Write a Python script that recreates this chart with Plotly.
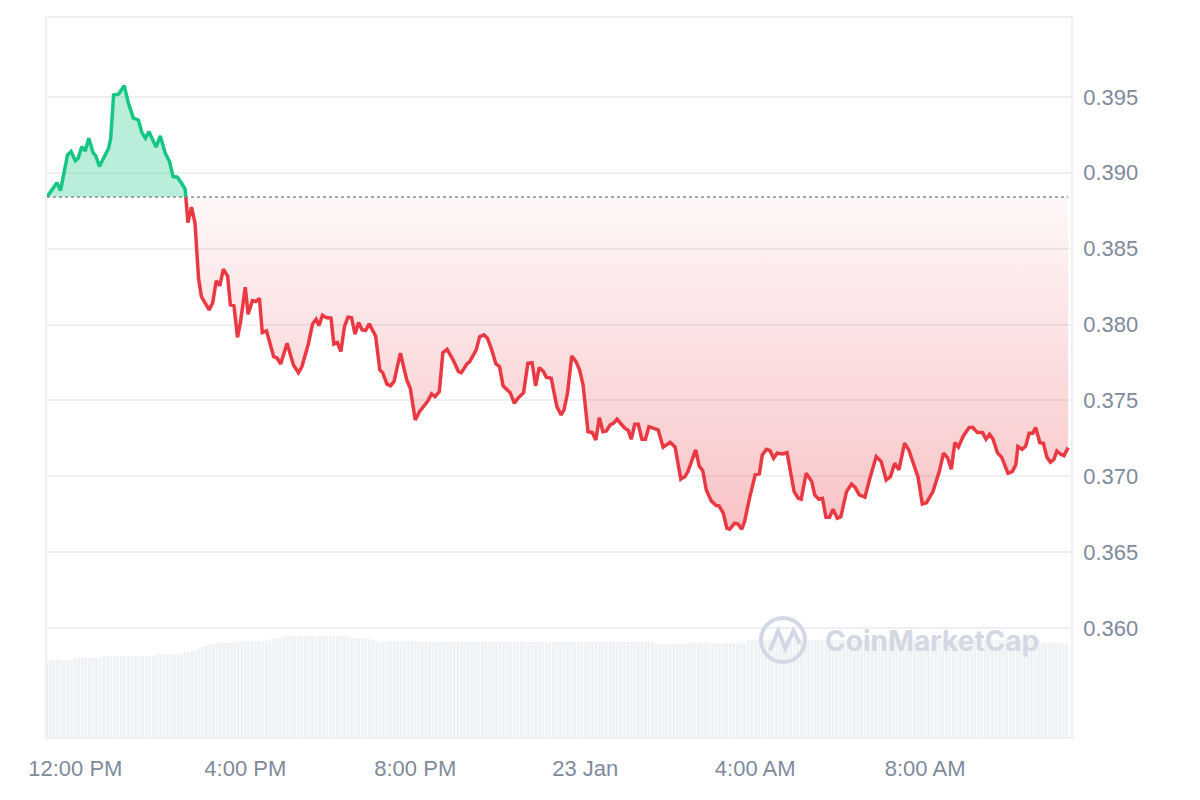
import pandas as pd
import plotly.graph_objects as go

# --- data ---------------------------------------------------------------
START = "2025-01-22 11:20"
BASELINE = 0.38841  # opening price of the window (dotted reference line)

# minutes after START, price in USD
MINUTES = [
    0, 14, 19, 23, 29, 34, 40, 44, 49, 54, 59, 65, 69, 74, 79, 87, 90, 94, 101, 109,
    115, 122, 129, 134, 139, 144, 154, 160, 167, 173, 178, 184, 190, 195, 196,
    199, 204, 209, 214, 218, 229, 234, 239, 244, 249, 255, 259, 264, 269, 273,
    280, 284, 290, 295, 300, 304, 310, 320, 325, 330, 339, 348, 355, 360, 369,
    375, 380, 384, 389, 394, 401, 405, 410, 415, 420, 425, 430, 435, 440, 445,
    450, 455, 464, 470, 474, 480, 485, 490, 499, 508, 513, 520, 526, 531, 538,
    543, 548, 554, 559, 565, 573, 581, 585, 593, 597, 606, 611, 617, 622, 628,
    634, 639, 644, 654, 660, 665, 673, 679, 685, 690, 695, 701, 705, 712, 720,
    726, 730, 735, 741, 747, 752, 757, 764, 770, 775, 780, 785, 790, 795, 800,
    805, 811, 816, 821, 825, 830, 835, 840, 845, 850, 856, 863, 870, 876, 880,
    887, 895, 901, 905, 916, 921, 926, 931, 938, 945, 949, 955, 960, 964, 971,
    976, 981, 985, 992, 1000, 1006, 1010, 1016, 1021, 1026, 1031, 1039, 1045, 1055, 1061,
    1065, 1072, 1080, 1084, 1090, 1095, 1100, 1105, 1110, 1116, 1121, 1129, 1136, 1141, 1147,
    1155, 1162, 1171, 1178, 1185, 1191, 1197, 1203, 1211, 1217, 1224, 1230, 1236, 1242, 1251,
    1260, 1266, 1272, 1277, 1282, 1287, 1294, 1302, 1307, 1314, 1321, 1326, 1331, 1336, 1342,
    1348, 1357, 1363, 1368, 1371, 1377, 1382, 1387, 1392, 1396, 1402, 1407, 1412, 1417, 1422,
    1426, 1431, 1436, 1442,
]
PRICE = [
    0.38841, 0.38935, 0.38883, 0.38975, 0.39118, 0.39140, 0.39080, 0.39096, 0.39172, 0.39144,
    0.39228, 0.39133, 0.39111, 0.39041, 0.39089, 0.39162, 0.39228, 0.39513, 0.39518, 0.39574,
    0.39458, 0.39360, 0.39348, 0.39265, 0.39228, 0.39271, 0.39169, 0.39243, 0.39129, 0.39074,
    0.38975, 0.38971, 0.38931, 0.38892, 0.38841,
    0.38672, 0.38773, 0.38668, 0.38305, 0.38184, 0.38096, 0.38144, 0.38289, 0.38255, 0.38365,
    0.38320, 0.38129, 0.38123, 0.37916, 0.38009, 0.38246, 0.38068, 0.38158, 0.38151, 0.38173,
    0.37947, 0.37958, 0.37789, 0.37778, 0.37740, 0.37877, 0.37734, 0.37683, 0.37723, 0.37872,
    0.38004, 0.38035, 0.37993, 0.38061, 0.38046, 0.38042, 0.37872, 0.37881, 0.37822, 0.37986,
    0.38048, 0.38045, 0.37936, 0.38013, 0.37965, 0.37962, 0.38004, 0.37925, 0.37701, 0.37683,
    0.37607, 0.37596, 0.37624, 0.37811, 0.37635, 0.37580, 0.37371, 0.37426, 0.37459, 0.37497,
    0.37543, 0.37525, 0.37558, 0.37815, 0.37837, 0.37771, 0.37690, 0.37683, 0.37740, 0.37756,
    0.37833, 0.37920, 0.37932, 0.37910, 0.37833, 0.37740, 0.37723, 0.37596, 0.37551, 0.37481,
    0.37514, 0.37551, 0.37745, 0.37749, 0.37596, 0.37716, 0.37690, 0.37653, 0.37646, 0.37459,
    0.37404, 0.37437, 0.37547, 0.37793, 0.37756, 0.37701, 0.37602, 0.37294, 0.37288, 0.37240,
    0.37387, 0.37294, 0.37299, 0.37338, 0.37350, 0.37376, 0.37343, 0.37317, 0.37301, 0.37244,
    0.37343, 0.37343, 0.37244, 0.37244, 0.37327, 0.37317, 0.37306, 0.37192, 0.37213, 0.37224,
    0.37192, 0.36981, 0.36998, 0.37031, 0.37174, 0.37068, 0.37037, 0.36910, 0.36838, 0.36807,
    0.36805, 0.36757, 0.36658, 0.36651, 0.36691, 0.36686, 0.36651, 0.36701, 0.36855, 0.37009,
    0.37016, 0.37141, 0.37178, 0.37169, 0.37119, 0.37152, 0.37147, 0.37156, 0.36899, 0.36855,
    0.36849, 0.37020, 0.36965, 0.36877, 0.36849, 0.36855, 0.36730, 0.36730, 0.36783, 0.36724,
    0.36734, 0.36899, 0.36948, 0.36928, 0.36877, 0.36862, 0.36987, 0.37130, 0.37097, 0.36976,
    0.36998, 0.37086, 0.37042, 0.37218, 0.37174, 0.37075, 0.36994, 0.36818, 0.36826, 0.36899,
    0.37031, 0.37152, 0.37119, 0.37047, 0.37222, 0.37192, 0.37266, 0.37321, 0.37323, 0.37288,
    0.37288, 0.37244, 0.37277, 0.37244, 0.37156, 0.37126, 0.37020, 0.37031, 0.37075, 0.37196,
    0.37178, 0.37200, 0.37284, 0.37284, 0.37321, 0.37222, 0.37218, 0.37126, 0.37093, 0.37112,
    0.37167, 0.37147, 0.37136, 0.37189,
]

# 5-minute volume bars (millions), one row per hour
VOLUME = [
    77, 77, 77, 77, 77, 77, 77, 77, 79, 79, 79, 79,
    79, 79, 79, 79, 81, 81, 81, 81, 81, 81, 81, 81,
    81, 81, 81, 81, 81, 81, 81, 83, 83, 83, 83, 83,
    83, 83, 83, 85, 84, 86, 87, 89, 90, 91, 92, 93,
    94, 94, 94, 95, 94, 95, 95, 96, 95, 96, 96, 95,
    96, 96, 96, 98, 99, 99, 99, 101, 101, 101, 101, 101,
    101, 101, 101, 101, 101, 101, 101, 101, 101, 101, 101, 101,
    101, 101, 99, 99, 99, 99, 99, 98, 97, 95, 94, 95,
    96, 96, 96, 96, 96, 96, 96, 96, 95, 95, 95, 95,
    95, 95, 95, 95, 95, 95, 95, 95, 95, 95, 95, 95,
    95, 95, 95, 95, 95, 95, 95, 95, 95, 95, 95, 95,
    95, 95, 95, 95, 95, 95, 95, 95, 95, 95, 95, 95,
    95, 95, 95, 95, 95, 95, 95, 95, 95, 95, 95, 95,
    95, 95, 95, 95, 95, 95, 95, 95, 95, 95, 95, 95,
    95, 95, 95, 95, 93, 93, 93, 93, 93, 93, 93, 93,
    93, 94, 94, 94, 94, 94, 94, 94, 94, 94, 94, 94,
    94, 94, 94, 94, 94, 94, 97, 97, 97, 97, 97, 97,
    97, 97, 97, 97, 97, 97, 97, 97, 97, 97, 97, 97,
    97, 97, 97, 97, 97, 97, 97, 97, 97, 97, 97, 97,
    97, 97, 97, 97, 97, 97, 97, 97, 97, 97, 97, 97,
    97, 97, 97, 97, 97, 97, 97, 97, 97, 97, 97, 97,
    97, 97, 97, 97, 97, 97, 97, 97, 97, 97, 97, 97,
    97, 97, 97, 97, 97, 97, 97, 97, 97, 97, 97, 97,
    97, 97, 97, 97, 97, 94, 94, 94, 94, 94, 94, 94,
    94,
]

PRICE_TICKS = [0.360, 0.365, 0.370, 0.375, 0.380, 0.385, 0.390, 0.395]
TICK_TIMES = ["2025-01-22 12:00", "2025-01-22 16:00", "2025-01-22 20:00",
              "2025-01-23 00:00", "2025-01-23 04:00", "2025-01-23 08:00"]
TICK_LABELS = ["12:00 PM", "4:00 PM", "8:00 PM", "23 Jan", "4:00 AM", "8:00 AM"]

# ------------------------------------------------------------------------
GREEN = "#16c784"
RED = "#ea3943"
GREY_TXT = "#808a9d"
GRID = "#eef0f3"
MARK = "#d3d9e4"

t0 = pd.Timestamp(START)
df = pd.DataFrame({"t": t0 + pd.to_timedelta(MINUTES, unit="min"), "p": PRICE})
cross = df["t"][df["p"].iloc[1:].lt(BASELINE).idxmax() - 1]
up = df[df["t"] <= cross]
down = df[df["t"] >= cross]
vol_t = pd.date_range(t0, periods=len(VOLUME), freq="5min")

fig = go.Figure()

fig.add_bar(x=vol_t, y=VOLUME, yaxis="y2", marker_color="#eff2f5",
            marker_line_width=0, hoverinfo="skip", showlegend=False)

# green part above baseline
fig.add_scatter(x=[up["t"].iloc[0], up["t"].iloc[-1]], y=[BASELINE, BASELINE],
                mode="lines", line=dict(width=0), hoverinfo="skip", showlegend=False)
fig.add_scatter(x=up["t"], y=up["p"], mode="lines", fill="tonexty",
                fillcolor="rgba(22,199,132,0.30)", line=dict(color=GREEN, width=3.5),
                showlegend=False)

# red part below baseline
fig.add_scatter(x=[down["t"].iloc[0], down["t"].iloc[-1]], y=[BASELINE, BASELINE],
                mode="lines", line=dict(width=0), hoverinfo="skip", showlegend=False)
fig.add_scatter(x=down["t"], y=down["p"], mode="lines", fill="tonexty",
                fillgradient=dict(type="vertical", start=min(PRICE), stop=BASELINE,
                                  colorscale=[[0, "rgba(234,57,67,0.30)"],
                                              [1, "rgba(234,57,67,0.04)"]]),
                line=dict(color=RED, width=3.5), showlegend=False)

# dotted reference line
fig.add_scatter(x=[df["t"].iloc[0], df["t"].iloc[-1]], y=[BASELINE, BASELINE],
                mode="lines", line=dict(color="#8d8d8d", width=1.5, dash="dot"),
                hoverinfo="skip", showlegend=False)

# CoinMarketCap watermark
fig.add_shape(type="circle", xref="paper", yref="paper",
              x0=0.6973, x1=0.7402, y0=0.1043, y1=0.1655,
              line=dict(color=MARK, width=4))
fig.add_shape(type="path", xref="paper", yref="paper",
              path="M 0.7060 0.1200 L 0.7140 0.1480 L 0.7210 0.1230 L 0.7290 0.1480 L 0.7350 0.1300",
              line=dict(color=MARK, width=4))
fig.add_annotation(text="<b>CoinMarketCap</b>", xref="paper", yref="paper",
                   x=0.8638, y=0.1335, xanchor="center", yanchor="middle",
                   showarrow=False,
                   font=dict(family="Inter", size=28, color=MARK))

# the page adds an 8px body margin, so margins are trimmed by 8px
fig.update_layout(
    width=1200, height=800,
    margin=dict(l=39, r=137, t=10, b=71, autoexpand=False),
    paper_bgcolor="white", plot_bgcolor="white",
    bargap=0.2,
    font=dict(family="Liberation Sans, Arial", size=22, color=GREY_TXT),
    xaxis=dict(
        type="date", automargin=False,
        range=[t0, t0 + pd.Timedelta(minutes=1446)],
        tickvals=pd.to_datetime(TICK_TIMES), ticktext=TICK_LABELS,
        showgrid=False, ticks="", ticklabelstandoff=11,
        showline=True, mirror=True, linecolor=GRID, linewidth=1.5,
        zeroline=False,
    ),
    yaxis=dict(
        side="right", automargin=False, range=[0.35282, 0.40020],
        tickvals=PRICE_TICKS, tickformat=".3f",
        gridcolor=GRID, gridwidth=1.5, ticks="", ticklabelstandoff=6,
        showline=True, mirror=True, linecolor=GRID, linewidth=1.5,
        zeroline=False,
    ),
    yaxis2=dict(overlaying="y", range=[0, 719], visible=False),
)

fig.write_html("out.html")
